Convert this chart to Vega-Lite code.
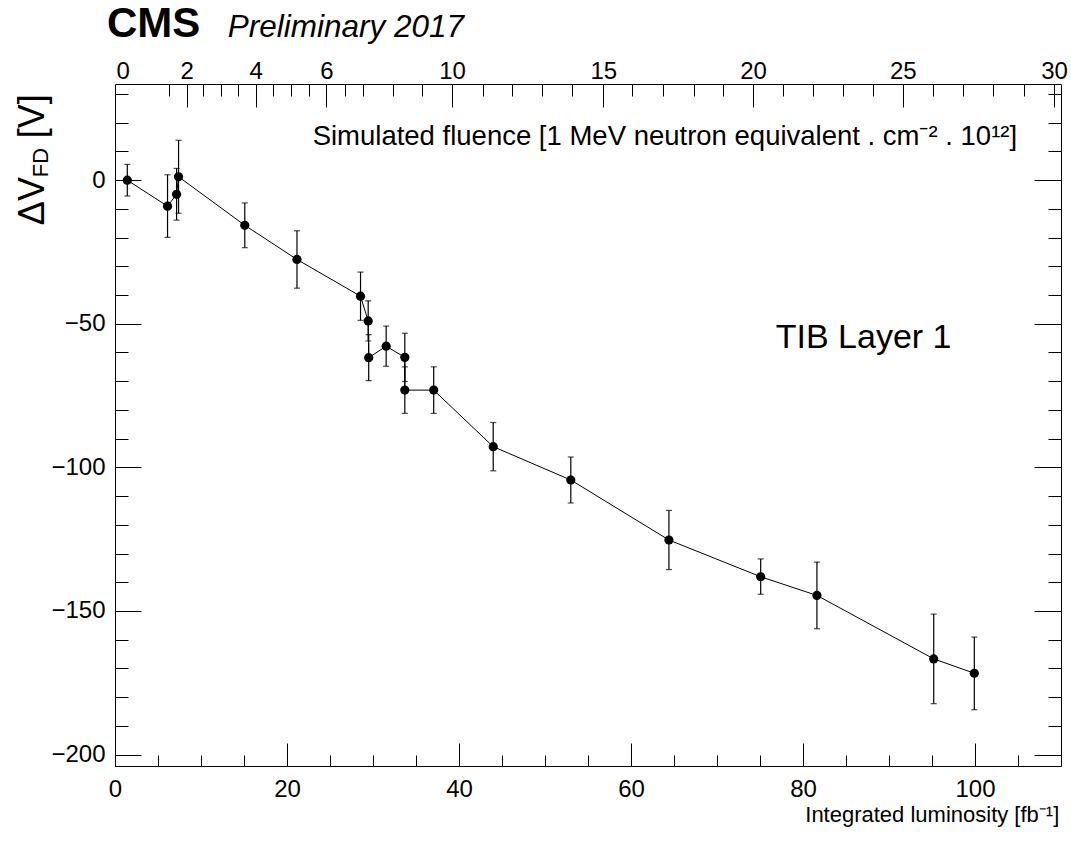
{
  "$schema": "https://vega.github.io/schema/vega-lite/v6.json",
  "width": 946,
  "height": 682,
  "autosize": {"type": "none"},
  "padding": {"left": 115, "top": 84, "right": 10, "bottom": 86},
  "background": "white",
  "config": {
    "view": {"stroke": "#000", "strokeWidth": 1},
    "axis": {"domain": false, "grid": false, "labelFont": "Liberation Sans", "labelFontSize": 24, "labelColor": "#000", "tickColor": "#000", "tickWidth": 1, "labelOverlap": false, "labelFlush": false},
    "text": {"font": "Liberation Sans", "color": "#000"}
  },
  "datasets": {
    "pts": [
      {"i": 1, "L": 1.43, "V": 0.0, "lo": -5.5, "hi": 5.5},
      {"i": 2, "L": 6.11, "V": -9.05, "lo": -19.9, "hi": 1.9},
      {"i": 3, "L": 7.16, "V": -4.9, "lo": -13.9, "hi": 4.1},
      {"i": 4, "L": 7.39, "V": 1.2, "lo": -11.5, "hi": 13.9},
      {"i": 5, "L": 15.09, "V": -15.7, "lo": -23.5, "hi": -7.9},
      {"i": 6, "L": 21.16, "V": -27.6, "lo": -37.6, "hi": -17.6},
      {"i": 7, "L": 28.55, "V": -40.4, "lo": -48.8, "hi": -32.0},
      {"i": 8, "L": 29.44, "V": -49.0, "lo": -56.0, "hi": -42.0},
      {"i": 9, "L": 29.5, "V": -61.8, "lo": -69.8, "hi": -53.8},
      {"i": 10, "L": 31.53, "V": -57.8, "lo": -64.8, "hi": -50.8},
      {"i": 11, "L": 33.7, "V": -61.7, "lo": -70.1, "hi": -53.3},
      {"i": 12, "L": 33.7, "V": -73.1, "lo": -81.2, "hi": -65.0},
      {"i": 13, "L": 37.06, "V": -73.1, "lo": -81.2, "hi": -65.0},
      {"i": 14, "L": 43.98, "V": -92.8, "lo": -101.2, "hi": -84.4},
      {"i": 15, "L": 53.0, "V": -104.4, "lo": -112.4, "hi": -96.4},
      {"i": 16, "L": 64.41, "V": -125.3, "lo": -135.6, "hi": -115.0},
      {"i": 17, "L": 75.08, "V": -138.1, "lo": -144.2, "hi": -131.9},
      {"i": 18, "L": 81.62, "V": -144.6, "lo": -156.2, "hi": -133.0},
      {"i": 19, "L": 95.2, "V": -166.7, "lo": -182.3, "hi": -151.1},
      {"i": 20, "L": 99.92, "V": -171.7, "lo": -184.4, "hi": -159.1}
    ]
  },
  "data": {"name": "pts"},
  "resolve": {"axis": {"x": "independent", "y": "independent"}},
  "layer": [
    {
      "mark": {"type": "rule", "color": "#000", "strokeWidth": 1.2},
      "encoding": {
        "x": {"field": "L", "type": "quantitative", "scale": {"domain": [0, 110], "nice": false, "zero": false},
              "axis": {"orient": "bottom", "values": [0, 20, 40, 60, 80, 100], "ticks": false, "labelPadding": 11, "title": null}},
        "y": {"field": "lo", "type": "quantitative", "scale": {"domain": [-204, 33.5], "nice": false, "zero": false},
              "axis": {"orient": "left", "values": [-200, -150, -100, -50, 0], "ticks": false, "labelPadding": 10, "title": null}},
        "y2": {"field": "hi"}
      }
    },
    {
      "mark": {"type": "tick", "orient": "horizontal", "size": 6, "thickness": 1.2, "color": "#000"},
      "encoding": {
        "x": {"field": "L", "type": "quantitative", "scale": {"domain": [0, 110], "nice": false, "zero": false},
              "axis": {"orient": "bottom", "values": [0, 20, 40, 60, 80, 100], "labels": false, "tickSize": -23, "title": null}},
        "y": {"field": "lo", "type": "quantitative", "scale": {"domain": [-204, 33.5], "nice": false, "zero": false},
              "axis": {"orient": "left", "values": [-200, -150, -100, -50, 0], "labels": false, "tickSize": -26, "title": null}}
      }
    },
    {
      "mark": {"type": "tick", "orient": "horizontal", "size": 6, "thickness": 1.2, "color": "#000"},
      "encoding": {
        "x": {"field": "L", "type": "quantitative", "scale": {"domain": [0, 110], "nice": false, "zero": false},
              "axis": {"orient": "bottom", "values": [0, 5, 10, 15, 20, 25, 30, 35, 40, 45, 50, 55, 60, 65, 70, 75, 80, 85, 90, 95, 100, 105], "labels": false, "tickSize": -11, "title": null}},
        "y": {"field": "hi", "type": "quantitative", "scale": {"domain": [-204, 33.5], "nice": false, "zero": false},
              "axis": {"orient": "left", "values": [-200, -190, -180, -170, -160, -150, -140, -130, -120, -110, -100, -90, -80, -70, -60, -50, -40, -30, -20, -10, 0, 10, 20, 30], "labels": false, "tickSize": -13, "title": null}}
      }
    },
    {
      "mark": {"type": "line", "color": "#000", "strokeWidth": 1},
      "encoding": {
        "x": {"field": "L", "type": "quantitative", "scale": {"domain": [0, 110], "nice": false, "zero": false},
              "axis": {"orient": "top", "values": [0.89, 8.32, 16.36, 24.57, 39.19, 56.78, 74.19, 91.6, 109.2], "ticks": false, "labelPadding": 1, "title": null,
                       "labelExpr": "datum.value < 4 ? '0' : datum.value < 12 ? '2' : datum.value < 20 ? '4' : datum.value < 30 ? '6' : datum.value < 45 ? '10' : datum.value < 65 ? '15' : datum.value < 80 ? '20' : datum.value < 100 ? '25' : '30'"}},
        "y": {"field": "V", "type": "quantitative", "scale": {"domain": [-204, 33.5], "nice": false, "zero": false},
              "axis": {"orient": "right", "values": [-200, -150, -100, -50, 0], "labels": false, "tickSize": -27, "title": null}},
        "order": {"field": "i", "type": "quantitative"}
      }
    },
    {
      "mark": {"type": "point", "filled": true, "color": "#000", "opacity": 1, "size": 85},
      "encoding": {
        "x": {"field": "L", "type": "quantitative", "scale": {"domain": [0, 110], "nice": false, "zero": false},
              "axis": {"orient": "top", "values": [8.32, 16.36, 24.57, 39.19, 56.78, 74.19, 91.6, 109.2], "labels": false, "tickSize": -23, "title": null}},
        "y": {"field": "V", "type": "quantitative", "scale": {"domain": [-204, 33.5], "nice": false, "zero": false},
              "axis": {"orient": "right", "values": [-200, -190, -180, -170, -160, -150, -140, -130, -120, -110, -100, -90, -80, -70, -60, -50, -40, -30, -20, -10, 0, 10, 20, 30], "labels": false, "tickSize": -13, "title": null}}
      }
    },
    {
      "data": {"values": [{"t": "TIB Layer 1"}]},
      "mark": {"type": "text", "fontSize": 34, "align": "left", "baseline": "alphabetic"},
      "encoding": {
        "text": {"field": "t"},
        "x": {"datum": 76.83, "type": "quantitative", "scale": {"domain": [0, 110], "nice": false, "zero": false},
              "axis": {"orient": "top", "values": [6.23, 10.25, 12.27, 14.31, 18.37, 20.42, 22.55, 26.69, 28.82, 32.3, 35.71, 42.82, 46.22, 49.7, 53.19, 60.15, 63.75, 67.31, 70.71, 77.67, 81.15, 84.63, 88.12, 95.16, 98.64, 102.12, 105.72], "labels": false, "tickSize": -12, "title": null}},
        "y": {"datum": -58.5, "type": "quantitative", "scale": {"domain": [-204, 33.5], "nice": false, "zero": false}, "axis": null}
      }
    },
    {
      "data": {"values": [{"t": "Simulated fluence [1 MeV neutron equivalent . cm⁻² . 10¹²]"}]},
      "mark": {"type": "text", "fontSize": 27.5, "align": "left", "baseline": "alphabetic"},
      "encoding": {
        "text": {"field": "t"},
        "x": {"datum": 22.98, "type": "quantitative", "scale": {"domain": [0, 110], "nice": false, "zero": false}, "axis": null},
        "y": {"datum": 12.2, "type": "quantitative", "scale": {"domain": [-204, 33.5], "nice": false, "zero": false}, "axis": null}
      }
    },
    {
      "data": {"values": [{"t": "Integrated luminosity [fb⁻¹]"}]},
      "mark": {"type": "text", "fontSize": 22, "align": "right", "baseline": "alphabetic"},
      "encoding": {
        "text": {"field": "t"},
        "x": {"datum": 109.8, "type": "quantitative", "scale": {"domain": [0, 110], "nice": false, "zero": false}, "axis": null},
        "y": {"datum": -223.5, "type": "quantitative", "scale": {"domain": [-204, 33.5], "nice": false, "zero": false}, "axis": null}
      }
    },
    {
      "data": {"values": [{"t": "CMS"}]},
      "mark": {"type": "text", "fontSize": 42, "fontWeight": "bold", "align": "left", "baseline": "alphabetic"},
      "encoding": {
        "text": {"field": "t"},
        "x": {"datum": -0.93, "type": "quantitative", "scale": {"domain": [0, 110], "nice": false, "zero": false}, "axis": null},
        "y": {"datum": 49.8, "type": "quantitative", "scale": {"domain": [-204, 33.5], "nice": false, "zero": false}, "axis": null}
      }
    },
    {
      "data": {"values": [{"t": "Preliminary 2017"}]},
      "mark": {"type": "text", "fontSize": 31.5, "fontStyle": "italic", "align": "left", "baseline": "alphabetic"},
      "encoding": {
        "text": {"field": "t"},
        "x": {"datum": 13.11, "type": "quantitative", "scale": {"domain": [0, 110], "nice": false, "zero": false}, "axis": null},
        "y": {"datum": 49.8, "type": "quantitative", "scale": {"domain": [-204, 33.5], "nice": false, "zero": false}, "axis": null}
      }
    },
    {
      "data": {"values": [{"t": "ΔV"}]},
      "mark": {"type": "text", "fontSize": 36, "angle": 270, "align": "left", "baseline": "alphabetic"},
      "encoding": {
        "text": {"field": "t"},
        "x": {"datum": -8.24, "type": "quantitative", "scale": {"domain": [0, 110], "nice": false, "zero": false}, "axis": null},
        "y": {"datum": -15.66, "type": "quantitative", "scale": {"domain": [-204, 33.5], "nice": false, "zero": false}, "axis": null}
      }
    },
    {
      "data": {"values": [{"t": "FD"}]},
      "mark": {"type": "text", "fontSize": 22, "angle": 270, "align": "left", "baseline": "alphabetic"},
      "encoding": {
        "text": {"field": "t"},
        "x": {"datum": -7.78, "type": "quantitative", "scale": {"domain": [0, 110], "nice": false, "zero": false}, "axis": null},
        "y": {"datum": 1.04, "type": "quantitative", "scale": {"domain": [-204, 33.5], "nice": false, "zero": false}, "axis": null}
      }
    },
    {
      "data": {"values": [{"t": "[V]"}]},
      "mark": {"type": "text", "fontSize": 36, "angle": 270, "align": "left", "baseline": "alphabetic"},
      "encoding": {
        "text": {"field": "t"},
        "x": {"datum": -8.24, "type": "quantitative", "scale": {"domain": [0, 110], "nice": false, "zero": false}, "axis": null},
        "y": {"datum": 14.6, "type": "quantitative", "scale": {"domain": [-204, 33.5], "nice": false, "zero": false}, "axis": null}
      }
    }
  ]
}
